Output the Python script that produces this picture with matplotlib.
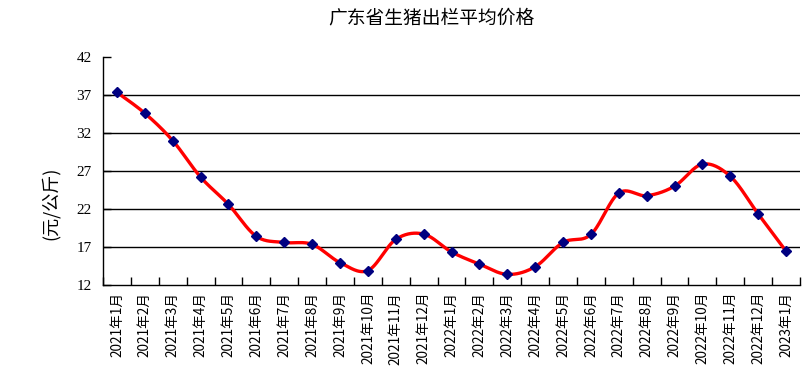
import numpy as np
import matplotlib
matplotlib.use("Agg")
import matplotlib.pyplot as plt

plt.rcParams['font.family'] = ['Noto Sans CJK SC', 'DejaVu Sans']

title = "广东省生猪出栏平均价格"
ylabel = "(元/公斤)"
months = ["2021年1月", "2021年2月", "2021年3月", "2021年4月", "2021年5月", "2021年6月",
          "2021年7月", "2021年8月", "2021年9月", "2021年10月", "2021年11月", "2021年12月",
          "2022年1月", "2022年2月", "2022年3月", "2022年4月", "2022年5月", "2022年6月",
          "2022年7月", "2022年8月", "2022年9月", "2022年10月", "2022年11月", "2022年12月",
          "2023年1月"]
prices = [37.35, 34.6, 31.0, 26.2, 22.6, 18.4, 17.6, 17.35, 14.95, 13.9, 18.0, 18.7,
          16.35, 14.75, 13.4, 14.4, 17.6, 18.65, 24.1, 23.75, 25.0, 27.9, 26.3, 21.35, 16.45]
yticks = [12, 17, 22, 27, 32, 37, 42]


def smooth(x, y, n=30):
    x = np.asarray(x, float)
    y = np.asarray(y, float)
    xs, ys = [], []
    for i in range(len(x) - 1):
        p0 = np.array([x[max(i - 1, 0)], y[max(i - 1, 0)]])
        p1 = np.array([x[i], y[i]])
        p2 = np.array([x[i + 1], y[i + 1]])
        p3 = np.array([x[min(i + 2, len(x) - 1)], y[min(i + 2, len(x) - 1)]])
        c1 = p1 + (p2 - p0) / 6.0
        c2 = p2 - (p3 - p1) / 6.0
        t = np.linspace(0, 1, n)[:, None]
        pts = ((1 - t) ** 3) * p1 + 3 * ((1 - t) ** 2) * t * c1 + 3 * (1 - t) * t ** 2 * c2 + t ** 3 * p2
        xs.extend(pts[:, 0])
        ys.extend(pts[:, 1])
    return np.array(xs), np.array(ys)


fig = plt.figure(figsize=(8.1, 3.82), dpi=100)
ax = fig.add_axes([103 / 810, 1 - 285 / 382, 697 / 810, 228 / 382])

x = np.arange(len(prices))
sx, sy = smooth(x, prices)
ax.plot(sx, sy, color='#ff0000', lw=2.4, zorder=3)
ax.plot(x, prices, linestyle='none', marker='D', markersize=5, color='#000080', zorder=4)

ax.set_xlim(-0.5, len(prices) - 0.5)
ax.set_ylim(12, 42)
ax.set_yticks(yticks)
ax.set_yticklabels([str(v) for v in yticks], fontsize=11, family=['Liberation Serif', 'DejaVu Serif'])
for v in yticks[1:-1]:
    ax.axhline(v, color='black', lw=1.0, zorder=1)

ax.set_xticks(np.arange(len(prices) + 1) - 0.5)
ax.set_xticklabels([])
ax.set_xticks(x, minor=True)
ax.set_xticklabels(months, minor=True, rotation=90, fontsize=9.8, va='top')
ax.tick_params(axis='x', which='minor', length=0, pad=5)
ax.tick_params(axis='x', which='major', direction='in', length=6, width=1)
ax.tick_params(axis='y', direction='in', length=6, width=1, pad=8)

for s in ['top', 'right']:
    ax.spines[s].set_visible(False)
for s in ['left', 'bottom']:
    ax.spines[s].set_linewidth(1.0)
    ax.spines[s].set_color('black')

fig.text(431 / 810, 1 - 18 / 382, title, ha='center', va='center', fontsize=13.5)
fig.text(50 / 810, 1 - 203 / 382, ylabel, ha='center', va='center', rotation=90, fontsize=13)

fig.savefig('out.png', dpi=100)
